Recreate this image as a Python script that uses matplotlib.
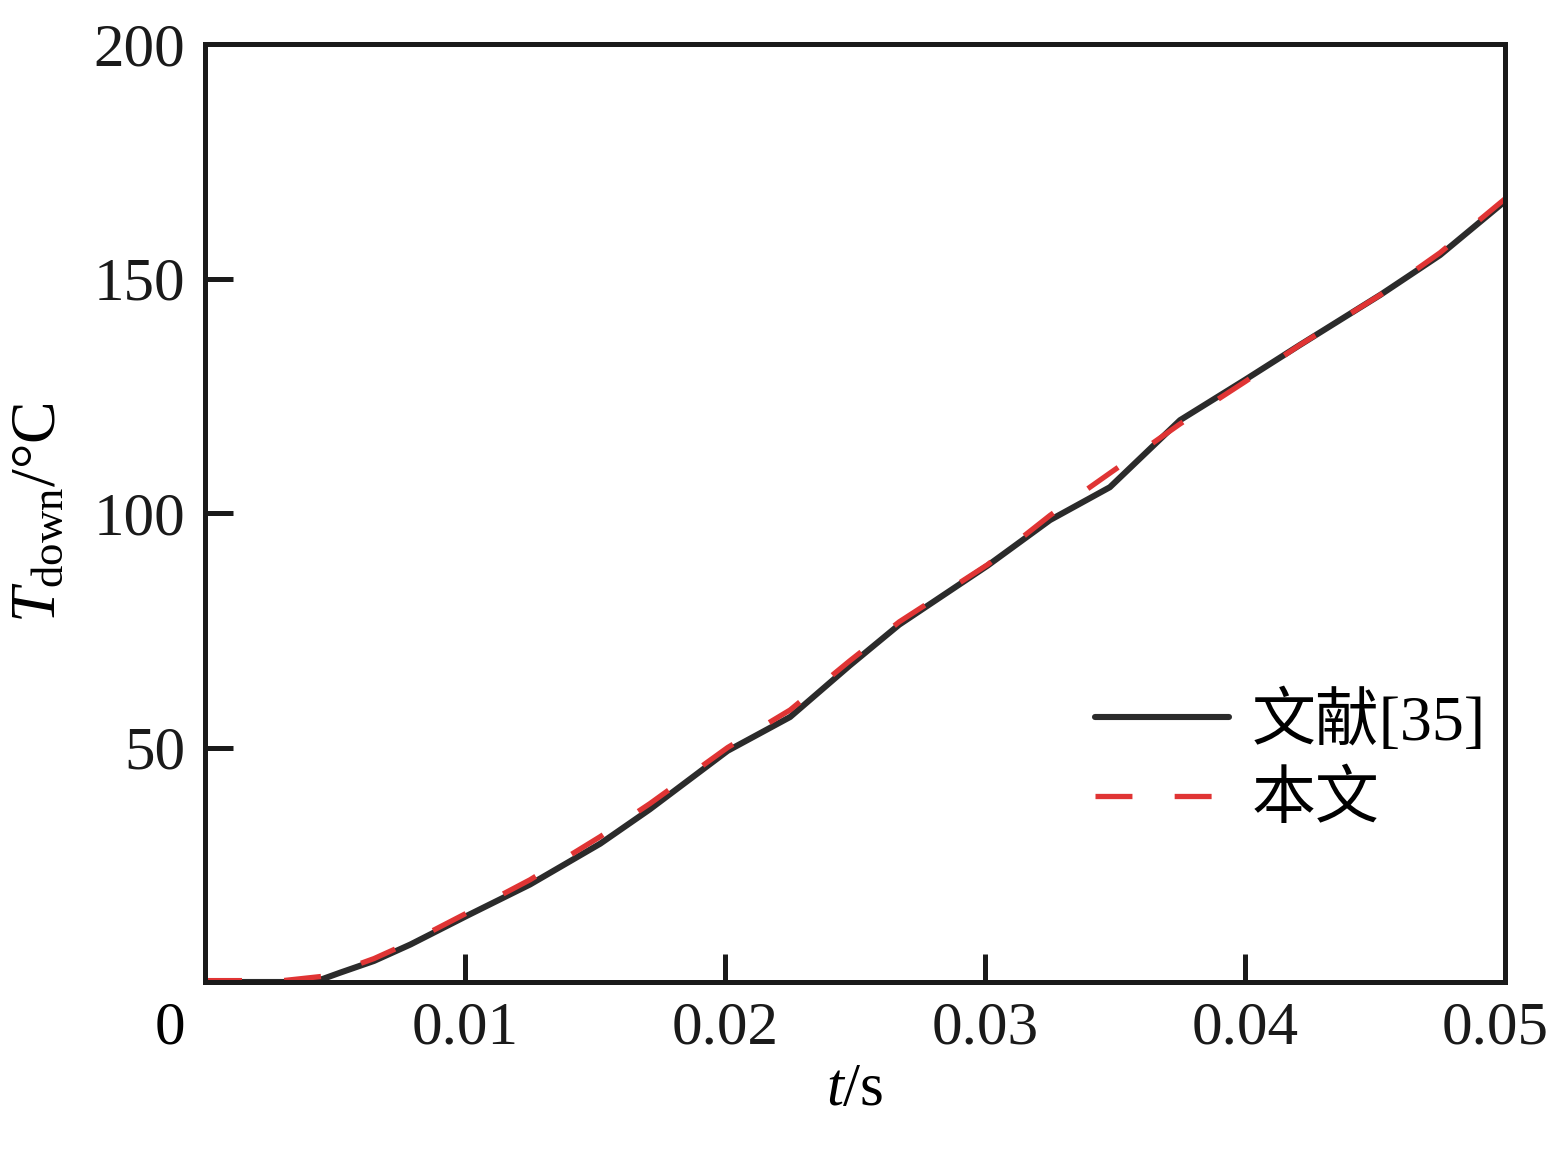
#!/usr/bin/env python3

import matplotlib
matplotlib.use("Agg")
import matplotlib.pyplot as plt
import matplotlib.transforms as mtransforms

# data
t_ref = [0.0, 0.0035, 0.0045, 0.0052, 0.0065, 0.0079, 0.0101, 0.0125, 0.0152,
         0.0171, 0.0201, 0.0225, 0.0248, 0.0267, 0.0301, 0.0325, 0.0348,
         0.0375, 0.0400, 0.0421, 0.0452, 0.0475, 0.0500]
T_ref = [0.0, 0.0, 0.6, 2.0, 4.5, 8.0, 14.2, 20.8, 29.5, 36.8, 49.3, 56.5,
         67.5, 76.2, 88.8, 98.5, 105.5, 119.8, 128.4, 135.8, 146.5, 155.0, 166.5]

t_this = [0.0, 0.0030, 0.0045, 0.0055, 0.0065, 0.0079, 0.0101, 0.0125, 0.0152,
          0.0171, 0.0201, 0.0225, 0.0248, 0.0267, 0.0301, 0.0325, 0.0348,
          0.0375, 0.0400, 0.0421, 0.0452, 0.0475, 0.0500]
T_this = [0.3, 0.3, 1.2, 3.0, 5.0, 8.5, 14.8, 21.8, 31.0, 38.0, 50.0, 58.0,
          68.5, 76.8, 89.0, 99.5, 108.5, 119.0, 128.0, 135.8, 146.5, 155.5, 167.0]

labels = ["文献[35]", "本文"]
x_ticks = [0.01, 0.02, 0.03, 0.04, 0.05]
x_tick_labels = ["0.01", "0.02", "0.03", "0.04", "0.05"]
y_ticks = [50, 100, 150, 200]

plt.rcParams["font.family"] = ["Liberation Serif", "Noto Sans CJK SC"]
plt.rcParams["mathtext.fontset"] = "custom"
plt.rcParams["mathtext.rm"] = "Liberation Serif"
plt.rcParams["mathtext.it"] = "Liberation Serif:italic"

fig = plt.figure(figsize=(15.5, 11.62), dpi=100)
ax = fig.add_axes([0.1323, 0.1549, 0.8387, 0.8072])

ax.plot(t_ref, T_ref, color="#2b2b2b", lw=4.4, label=labels[0], solid_capstyle="round")
ax.plot(t_this, T_this, color="#e03434", lw=3.8, dashes=(7, 8), label=labels[1])

ax.set_xlim(0, 0.05)
ax.set_ylim(0, 200)
ax.set_xticks(x_ticks)
ax.set_xticklabels(x_tick_labels)
ax.set_yticks(y_ticks)

for s in ax.spines.values():
    s.set_linewidth(3.6)
    s.set_color("#1a1a1a")
ax.tick_params(direction="in", length=20, width=3.6, labelsize=44, pad=14,
               colors="#1a1a1a")

# pull the last x label in a little so it stays on the canvas
last = ax.get_xticklabels()[-1]
last.set_transform(last.get_transform() +
                   mtransforms.ScaledTranslation(-10 / 100, 0, fig.dpi_scale_trans))

ax.text(-0.027, -0.05, "0", transform=ax.transAxes, fontsize=44,
        ha="center", va="center")

ax.set_xlabel("$t$/s", fontsize=44, labelpad=4)
ax.set_ylabel(r"$T_{\mathrm{down}}$/°C", fontsize=46, labelpad=18)

ax.legend(loc="upper left", bbox_to_anchor=(0.66, 0.345), frameon=False,
          fontsize=46, handlelength=2.1, handletextpad=0.35, labelspacing=0.3,
          borderpad=0)

fig.savefig("out.png", dpi=100)
